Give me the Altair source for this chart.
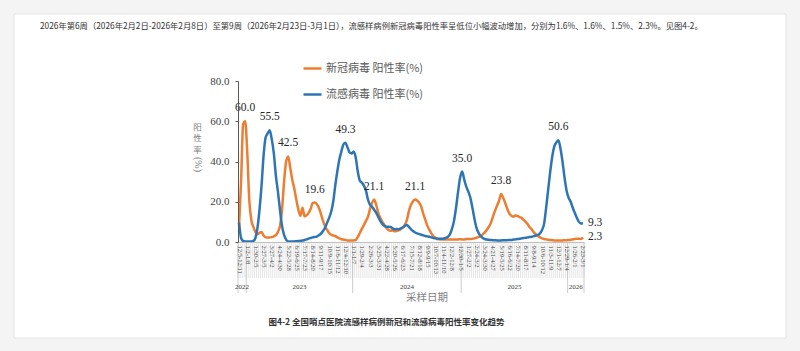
import altair as alt
import pandas as pd

# ---------------- data ----------------
tick_labels = [
    "12/5-12/11", "1/2-1/8", "1/30-2/5", "2/27-3/5", "3/27-4/2", "4/24-4/30",
    "5/22-5/28", "6/19-6/25", "7/17-7/23", "8/14-8/20", "9/11-9/17", "10/9-10/15",
    "11/6-11/12", "12/4-12/10", "1/1-1/7", "1/29-2/4", "2/26-3/3", "3/25-3/31",
    "4/22-4/28", "5/20-5/26", "6/17-6/23", "7/15-7/21", "8/12-8/18", "9/9-9/15",
    "10/7-10/13", "11/4-11/10", "12/2-12/8", "12/30-1/5", "1/27-2/2", "2/24-3/2",
    "3/24-3/30", "4/21-4/27", "5/19-5/25", "6/16-6/22", "7/14-7/20", "8/11-8/17",
    "9/8-9/14", "10/6-10/12", "11/3-11/9", "12/1-12/7", "12/29-1/4", "1/26-2/1",
    "2/23-3/1",
]

covid = [
    8, 30, 58.5, 60.0, 45, 21, 11, 7.5, 5, 3.8,
    4.5, 5, 3.2, 2.3, 2.2, 2.2, 2.4, 2.8, 3.4, 5,
    8, 16, 30, 40, 42.5, 37, 31, 26.5, 21, 16,
    13, 17, 12.8, 13.3, 14.5, 16.5, 19.4, 19.6, 18.8, 17,
    14, 10.5, 8, 6, 4.5, 3.6, 3.2, 3, 2.3, 1.8,
    1.4, 1.2, 1, 0.8, 0.7, 0.7, 0.8, 1, 2.5, 4.5,
    6.5, 8.5, 10.5, 12.6, 16.5, 19.5, 21.1, 18.5, 14.5, 12,
    10, 8.5, 7, 6, 5.6, 5.8, 5.3, 5.5, 5.8, 6.3,
    7.2, 8.5, 11, 15.5, 18.5, 20.3, 21.1, 20.6, 19.5, 17.5,
    14, 11, 8, 6, 4.2, 2.8, 2, 1.4, 1.3, 1.2,
    1.2, 1.2, 1.3, 1.2, 1.3, 1.3, 1.2, 1.3, 1.4, 1.3,
    1.3, 1.4, 1.5, 1.5, 1.6, 1.8, 2.1, 2.5, 3, 3.8,
    4.8, 6, 7.5, 9.5, 12.5, 15.5, 18, 20.5, 23.8, 22,
    19.5, 16.5, 14.2, 13, 12.6, 13.2, 13, 12.4, 12, 11,
    10, 8.8, 7.3, 6.2, 4.8, 3.8, 3, 2.3, 1.8, 1.5,
    1.3, 1.1, 1, 0.9, 0.8, 0.7, 0.7, 0.8, 0.8, 0.9,
    0.9, 1, 1.1, 1.3, 1.5, 1.6, 1.6, 1.5, 2.3,
]

flu = [
    9.6, 2, 0.5, 0.3, 0.3, 0.3, 0.3, 0.5, 2, 7,
    16, 28, 43, 52, 54, 55.5, 51, 44, 33, 25,
    16, 8, 3.5, 1.2, 0.3, 0.3, 0.3, 0.3, 0.4, 0.5,
    0.6, 0.7, 1, 1.3, 1.7, 2, 2.3, 2.5, 2.7, 3.3,
    4.2, 5.5, 7, 9.5, 12, 15, 20, 28, 35, 41,
    45, 48.5, 49.3, 47, 44.5, 44, 45, 42, 35, 30.5,
    29.5, 28, 25.5, 21, 18.5, 17.5, 16, 14.5, 12.5, 10.5,
    9, 8, 7.6, 7.6, 7.5, 6.8, 6.3, 6.5, 6.3, 6.8,
    7.2, 8, 8.4, 7.5, 6.3, 5.5, 4.7, 4.3, 3.9, 3.6,
    3.3, 3, 2.8, 2.6, 2.3, 2, 1.8, 1.7, 1.6, 1.6,
    1.7, 2, 2.6, 3.8, 6.5, 10.5, 17, 25, 32, 35.0,
    31, 27.5, 25, 22, 17, 11.5, 7, 4.5, 3, 2,
    1.5, 1.2, 1.1, 1, 0.9, 0.9, 0.8, 0.8, 0.8, 0.9,
    0.9, 0.9, 1, 1, 1.2, 1.3, 1.5, 1.6, 1.8, 2,
    2.1, 2.3, 2.5, 2.6, 2.9, 3.2, 3.5, 4.3, 6, 9,
    17, 26, 35, 42.5, 47.5, 49.5, 50.6, 46.5, 40, 32,
    25.5, 22, 20, 17, 14.5, 12, 10, 9.2, 9.3,
]

years = ["2022", "2023", "2024", "2025", "2026"]
year_first = [0, 4, 56, 109, 161]
year_last = [3, 55, 108, 160, 168]

peak_idx = [3, 15, 24, 37, 52, 66, 86, 109, 128, 156]
peak_series = ["c", "f", "c", "c", "f", "c", "c", "f", "c", "f"]

S1 = "新冠病毒 阳性率(%)"
S2 = "流感病毒 阳性率(%)"
ORANGE = "#ED7D31"
BLUE = "#2E75B6"

n = len(covid)
assert n == len(flu) == 169

# ---------------- tables ----------------
df = pd.DataFrame(
    {"week": list(range(n)) * 2,
     "value": covid + flu,
     "series": [S1] * n + [S2] * n}
)
ann = pd.DataFrame({
    "week": peak_idx,
    "value": [covid[i] if s == "c" else flu[i] for i, s in zip(peak_idx, peak_series)],
})
ann["label"] = ann["value"].map(lambda v: f"{v:.1f}")
end = pd.DataFrame({"week": [n - 1, n - 1], "value": [flu[-1], covid[-1]]})
end["label"] = end["value"].map(lambda v: f"{v:.1f}")

week_bounds = pd.DataFrame({"week": [i - 0.5 for i in range(n + 1)]})
year_bounds = pd.DataFrame({"week": [year_first[0] - 0.5] + [l + 0.5 for l in year_last]})
year_df = pd.DataFrame({"year": years, "week": [(a + b) / 2 for a, b in zip(year_first, year_last)]})
one = pd.DataFrame({"k": [0]})

# ---------------- layout ----------------
W, H = 346, 161
LEFT, TOP = 238, 81
x_scale = alt.Scale(domain=[-0.5, n - 0.5], nice=False, zero=False)
y_scale = alt.Scale(domain=[0, 80], nice=False, zero=True)

label_expr = "[" + ",".join(f"'{s}'" for s in tick_labels) + "][round(datum.value/4)]"
x_axis = alt.Axis(values=list(range(0, n, 4)), labelExpr=label_expr, labelAngle=90,
                  labelAlign="left", labelBaseline="middle",
                  labelFont="Liberation Serif", labelFontSize=6.5, labelColor="#404040",
                  ticks=False, labelPadding=3, domainColor="#bfbfbf", grid=False,
                  title=None, labelOverlap=False, labelFlush=False, labelBound=False, zindex=1)
y_axis = alt.Axis(values=[0, 20, 40, 60, 80], format=".1f", labelFont="Liberation Serif",
                  labelFontSize=11, labelColor="#404040", domainColor="#595959",
                  tickColor="#595959", tickSize=3, labelPadding=6, grid=False, title=None, zindex=1)

X = lambda: alt.X("week:Q", scale=x_scale, axis=x_axis)
Y = lambda: alt.Y("value:Q", scale=y_scale, axis=y_axis)

card = alt.Chart(one).mark_rect(fill="white", stroke="#e6e6e6").encode(
    x=alt.value(14 - LEFT), x2=alt.value(786 - LEFT),
    y=alt.value(14 - TOP), y2=alt.value(338 - TOP))

week_rules = alt.Chart(week_bounds).mark_rule(color="#d4d4d4", strokeWidth=0.6).encode(
    x=X(), y=alt.value(H), y2=alt.value(H + 36))
year_rules = alt.Chart(year_bounds).mark_rule(color="#bfbfbf", strokeWidth=0.8).encode(
    x=X(), y=alt.value(H), y2=alt.value(H + 51))
year_text = alt.Chart(year_df).mark_text(font="Liberation Serif", fontSize=7, color="#404040",
                                         baseline="middle").encode(
    x=X(), y=alt.value(H + 44.5), text="year:N")

legend = alt.Legend(orient="none", legendX=64, legendY=-23, direction="vertical", title=None,
                    symbolType="stroke", symbolSize=324, symbolStrokeWidth=2.5,
                    labelFont="Noto Sans CJK SC", labelFontSize=11, labelColor="#595959",
                    rowPadding=10, padding=0, labelOffset=3, zindex=1)

lines = alt.Chart(df).mark_line(strokeWidth=2.5, interpolate="monotone").encode(
    x=X(), y=Y(),
    color=alt.Color("series:N", scale=alt.Scale(domain=[S1, S2], range=[ORANGE, BLUE]),
                    legend=legend),
)

peaks = alt.Chart(ann).mark_text(font="Liberation Serif", fontSize=11.5, color="#262626",
                                 dy=-13, baseline="middle").encode(
    x=X(), y=Y(), text="label:N")
ends = alt.Chart(end).mark_text(font="Liberation Serif", fontSize=11.5, color="#262626",
                                dx=5, align="left", baseline="middle").encode(
    x=X(), y=Y(), text="label:N")

def label(txt, x, y, size, color="#333333", weight="normal", align="left", angle=0,
          font="Noto Sans CJK SC", baseline="middle"):
    return alt.Chart(one).mark_text(font=font, fontSize=size, color=color, fontWeight=weight,
                                    align=align, baseline=baseline, angle=angle).encode(
        x=alt.value(x), y=alt.value(y), text=alt.value(txt))

top_text = label("2026年第6周（2026年2月2日-2026年2月8日）至第9周（2026年2月23日-3月1日），"
                 "流感样病例新冠病毒阳性率呈低位小幅波动增加，分别为1.6%、1.6%、1.5%、2.3%。见图4-2。",
                 40 - LEFT, 27 - TOP, 8.3)
caption = label("图4-2 全国哨点医院流感样病例新冠和流感病毒阳性率变化趋势",
                386.5 - LEFT, 322 - TOP, 8.5, weight="bold", align="center")
x_title = label("采样日期", 427 - LEFT, 298 - TOP, 10.5, color="#7f7f7f", align="center")
y_chars = [label(c, 197.5 - LEFT, yy - TOP, 8.5, color="#7f7f7f", align="center")
           for c, yy in zip(["阳", "性", "率"], [126.5, 138, 149.5])]
y_pct = label("(%)", 197.5 - LEFT, 164.5 - TOP, 10, color="#7f7f7f", align="center", angle=90,
              font="Liberation Serif")

chart = alt.layer(
    card, week_rules, year_rules, year_text, lines, peaks, ends,
    top_text, caption, x_title, *y_chars, y_pct,
).properties(
    width=W, height=H,
    autosize=alt.AutoSizeParams(type="none"),
    padding={"left": LEFT, "top": TOP, "right": 800 - LEFT - W, "bottom": 351 - TOP - H},
    background="#f4f4f4",
).configure_view(stroke=None)

chart.save("out.html", embed_options={"renderer": "svg", "actions": False})
